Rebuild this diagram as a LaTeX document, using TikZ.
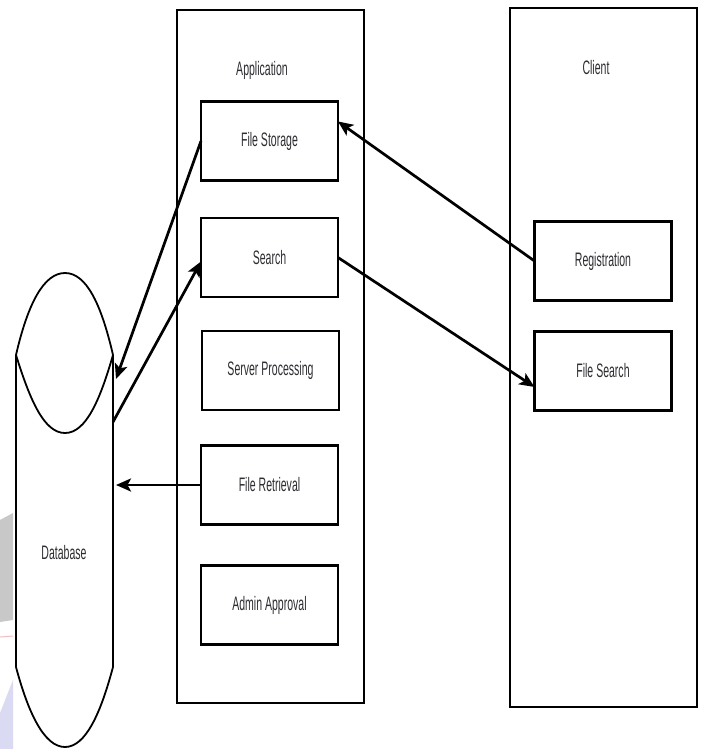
\documentclass[tikz,border=0pt]{standalone}
\usepackage{fontspec}
\setmainfont{Liberation Sans}[FakeStretch=0.54]
\usetikzlibrary{arrows.meta}
\definecolor{txt}{RGB}{45,45,50}
\definecolor{wmgray}{RGB}{200,200,200}
\definecolor{wmred}{RGB}{240,190,190}
\definecolor{wmlav}{RGB}{218,218,242}
\tikzset{
  container/.style={draw=black, line width=1.8pt, minimum width=187pt, inner sep=0pt, outer sep=0pt},
  module/.style={draw=black, line width=2.6pt, minimum width=137pt, minimum height=79pt,
                 inner sep=0pt, outer sep=0pt, font=\fontsize{19.5}{21}\selectfont, text=txt},
  caption/.style={font=\fontsize{19.5}{21}\selectfont, text=txt, inner sep=0pt},
  flow/.style={line width=2.7pt, -{Stealth[length=15pt,width=13pt,inset=3.5pt]}},
}
\begin{document}
\begin{tikzpicture}[x=1pt, y=-1pt]
\useasboundingbox (0,0) rectangle (703,749);
\fill[white] (0,0) rectangle (703,749);

% faint background marks along the left edge
\fill[wmgray] (0,520) -- (13,513) -- (13,620) -- (0,622) -- cycle;
\draw[wmred, line width=1pt] (0,637) -- (13,636);
\fill[wmlav] (0,713) -- (13,680) -- (13,749) -- (0,749) -- cycle;

% containers
\node[container, minimum height=693pt] (app) at (270.5,356.5) {};
\node[container, minimum height=699pt] (client) at (603.5,357.5) {};
\node[caption] (appl) at (262,70) {Application};
\node[caption] (clientl) at (596,68) {Client};

% application modules
\node[module] (fstore) at (269.5,141) {File Storage};
\node[module] (search) at (269.5,257.5) {Search};
\node[module] (server) at (270.5,370.5) {Server Processing};
\node[module] (fretr) at (269.5,485) {File Retrieval};
\node[module] (admin) at (269.5,605) {Admin Approval};

% client modules
\node[module] (reg) at (603,261) {Registration};
\node[module] (fsearch) at (603,371) {File Search};

% database cylinder
\begin{scope}[line width=1.8pt, line join=round]
  \draw (16,355) .. controls (28,303) and (44,273) .. (65,273)
                 .. controls (86,273) and (101,303) .. (113,355);
  \draw (16,355) .. controls (30,400) and (44,433) .. (65,433)
                 .. controls (86,433) and (100,400) .. (113,355);
  \draw (16,355) -- (16,667) .. controls (28,712) and (44,747) .. (65,747)
                 .. controls (86,747) and (101,712) .. (113,667) -- (113,355);
\end{scope}
\node[caption] (db) at (64,553) {Database};
\coordinate (dbIn) at (116,379);
\coordinate (dbOut) at (113,422);
\coordinate (dbRet) at (116,485);

% connectors
\draw[flow] (fstore.west) -- (dbIn);
\draw[flow] (dbOut) -- ([yshift=-4pt]search.west);
\draw[flow] (reg.west) -- ([yshift=-20pt]fstore.north east);
\draw[flow] (search.east) -- ([yshift=-16pt]fsearch.west);
\draw[flow] (fretr.west) -- (dbRet);
\end{tikzpicture}
\end{document}
